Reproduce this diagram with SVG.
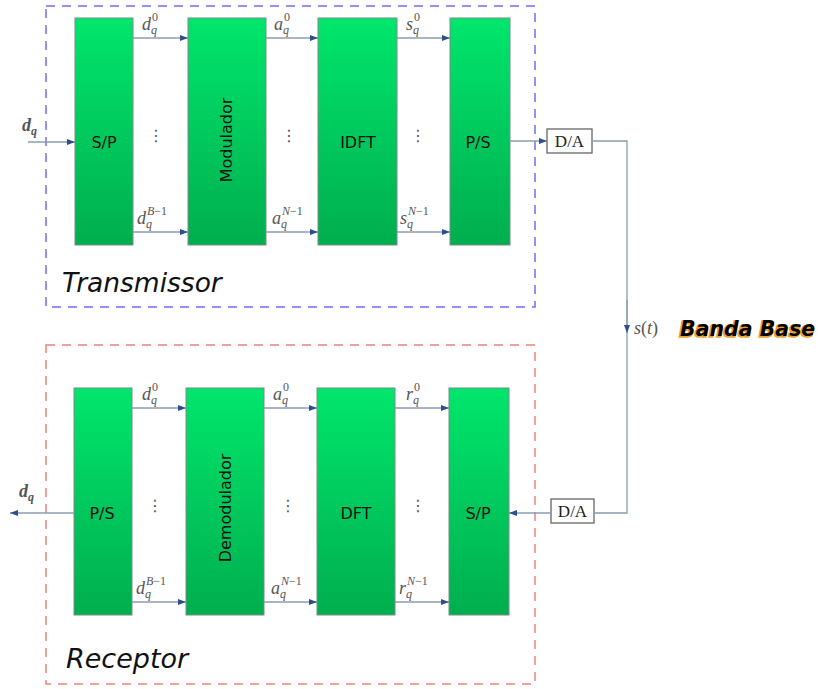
<svg xmlns="http://www.w3.org/2000/svg" width="818" height="689" viewBox="0 0 818 689">
<defs>
<linearGradient id="g" x1="0" y1="0" x2="0" y2="1">
<stop offset="0" stop-color="#00e66c"/>
<stop offset="1" stop-color="#00ae4e"/>
</linearGradient>
<marker id="ar" viewBox="0 0 8 6" refX="8" refY="3" markerWidth="8" markerHeight="6" orient="auto" markerUnits="userSpaceOnUse">
<path d="M0,0 L8,3 L0,6 Z" fill="#2b4f8c"/>
</marker>
</defs>
<style>
.blk{fill:url(#g);stroke:#7a8c86;stroke-width:1}
.bt{font-family:"DejaVu Sans",sans-serif;font-size:16px;fill:#111;text-anchor:middle}
.line{stroke:#8a9db0;stroke-width:1.3;fill:none}
.arr{stroke:#8a9db0;stroke-width:1.3;fill:none;marker-end:url(#ar)}
.m{font-family:"Liberation Serif",serif;font-style:italic;font-size:18px;fill:#555}
.s{font-size:12px}
.n{font-style:normal}
.dots{font-family:"DejaVu Sans",sans-serif;font-size:16px;fill:#555;text-anchor:middle}
.da{fill:#fff;stroke:#666;stroke-width:1.3}
.dat{font-family:"Liberation Serif",serif;font-size:17px;fill:#222;text-anchor:middle}
.title{font-family:"DejaVu Sans",sans-serif;font-style:italic;fill:#111}
</style>
<g id="tx-frame"><rect x="46" y="6" width="489" height="301" fill="none" stroke="#6f6ff0" stroke-width="1.5" stroke-dasharray="9,7"/></g>
<g id="rx-frame"><rect x="46" y="345" width="489" height="339" fill="none" stroke="#ee8080" stroke-width="1.5" stroke-dasharray="9,7"/></g>
<g id="tx-sp"><rect class="blk" x="75" y="18" width="58" height="227"/><text class="bt" x="104" y="148">S/P</text></g>
<g id="tx-mod"><rect class="blk" x="188" y="18" width="78" height="227"/><text class="bt" transform="translate(232,140) rotate(-90)" font-size="13">Modulador</text></g>
<g id="tx-idft"><rect class="blk" x="318" y="18" width="79" height="227"/><text class="bt" x="358" y="148">IDFT</text></g>
<g id="tx-ps"><rect class="blk" x="450" y="18" width="60" height="227"/><text class="bt" x="478" y="148">P/S</text></g>
<g id="tx-da"><rect class="da" x="547" y="129" width="45" height="24"/><text class="dat" x="569.5" y="147">D/A</text></g>
<g id="rx-ps"><rect class="blk" x="74" y="388" width="58" height="227"/><text class="bt" x="102" y="519">P/S</text></g>
<g id="rx-demod"><rect class="blk" x="186" y="388" width="78" height="227"/><text class="bt" transform="translate(231,508) rotate(-90)" font-size="13">Demodulador</text></g>
<g id="rx-dft"><rect class="blk" x="317" y="388" width="78" height="227"/><text class="bt" x="356" y="519">DFT</text></g>
<g id="rx-sp"><rect class="blk" x="449" y="388" width="60" height="227"/><text class="bt" x="478" y="519">S/P</text></g>
<g id="rx-da"><rect class="da" x="551" y="499" width="43" height="24"/><text class="dat" x="572.5" y="517">D/A</text></g>
<g id="connectors">
<line class="arr" x1="28" y1="142" x2="75" y2="142"/>
<line class="arr" x1="133" y1="38" x2="188" y2="38"/>
<line class="arr" x1="133" y1="232" x2="188" y2="232"/>
<line class="arr" x1="266" y1="38" x2="318" y2="38"/>
<line class="arr" x1="266" y1="232" x2="318" y2="232"/>
<line class="arr" x1="397" y1="38" x2="450" y2="38"/>
<line class="arr" x1="397" y1="232" x2="450" y2="232"/>
<line class="arr" x1="510" y1="141" x2="547" y2="141"/>
<polyline class="line" points="592,141 627,141 627,513 594,513"/>
<line class="arr" x1="627" y1="300" x2="627" y2="333"/>
<line class="arr" x1="551" y1="513" x2="509" y2="513"/>
<line class="arr" x1="132" y1="408" x2="186" y2="408"/>
<line class="arr" x1="132" y1="602" x2="186" y2="602"/>
<line class="arr" x1="264" y1="408" x2="317" y2="408"/>
<line class="arr" x1="264" y1="602" x2="317" y2="602"/>
<line class="arr" x1="395" y1="408" x2="449" y2="408"/>
<line class="arr" x1="395" y1="602" x2="449" y2="602"/>
<line class="arr" x1="74" y1="513" x2="10" y2="513"/>
</g>
<g id="labels">
<text class="m" x="22" y="131" font-weight="bold" fill="#333">d<tspan class="s" dy="4">q</tspan></text>
<text class="m" x="19" y="497" font-weight="bold" fill="#333">d<tspan class="s" dy="4">q</tspan></text>
<text class="m" x="142" y="30">d<tspan class="s" x="151" y="34">q</tspan><tspan class="s n" x="152" y="21">0</tspan></text>
<text class="m" x="274" y="30">a<tspan class="s" x="283" y="34">q</tspan><tspan class="s n" x="284" y="21">0</tspan></text>
<text class="m" x="406" y="30">s<tspan class="s" x="413" y="34">q</tspan><tspan class="s n" x="414" y="21">0</tspan></text>
<text class="m" x="137" y="224">d<tspan class="s" x="146" y="228">q</tspan><tspan class="s" x="147" y="215">B<tspan class="n">−1</tspan></tspan></text>
<text class="m" x="272" y="224">a<tspan class="s" x="281" y="228">q</tspan><tspan class="s" x="282" y="215">N<tspan class="n">−1</tspan></tspan></text>
<text class="m" x="400" y="224">s<tspan class="s" x="407" y="228">q</tspan><tspan class="s" x="408" y="215">N<tspan class="n">−1</tspan></tspan></text>
<text class="m" x="142" y="400">d<tspan class="s" x="151" y="404">q</tspan><tspan class="s n" x="152" y="391">0</tspan></text>
<text class="m" x="273" y="400">a<tspan class="s" x="282" y="404">q</tspan><tspan class="s n" x="283" y="391">0</tspan></text>
<text class="m" x="406" y="400">r<tspan class="s" x="413" y="404">q</tspan><tspan class="s n" x="414" y="391">0</tspan></text>
<text class="m" x="136" y="594">d<tspan class="s" x="145" y="598">q</tspan><tspan class="s" x="146" y="585">B<tspan class="n">−1</tspan></tspan></text>
<text class="m" x="271" y="594">a<tspan class="s" x="280" y="598">q</tspan><tspan class="s" x="281" y="585">N<tspan class="n">−1</tspan></tspan></text>
<text class="m" x="399" y="594">r<tspan class="s" x="406" y="598">q</tspan><tspan class="s" x="407" y="585">N<tspan class="n">−1</tspan></tspan></text>
<text class="dots" x="156" y="141">⋮</text>
<text class="dots" x="289" y="141">⋮</text>
<text class="dots" x="418" y="141">⋮</text>
<text class="dots" x="155" y="511">⋮</text>
<text class="dots" x="288" y="511">⋮</text>
<text class="dots" x="418" y="511">⋮</text>
<text class="m" x="634" y="334" font-size="16">s<tspan class="n">(</tspan>t<tspan class="n">)</tspan></text>
<text x="679" y="337" font-family="DejaVu Sans,sans-serif" font-style="italic" font-weight="bold" font-size="20.5" fill="#f0a030" stroke="#f0a030" stroke-width="1.5">Banda Base</text>
<text x="680" y="336" font-family="DejaVu Sans,sans-serif" font-style="italic" font-weight="bold" font-size="20.5" fill="#000">Banda Base</text>
<text class="title" x="62" y="292" font-size="26.5">Transmissor</text>
<text class="title" x="66" y="668" font-size="27">Receptor</text>
</g>
</svg>
